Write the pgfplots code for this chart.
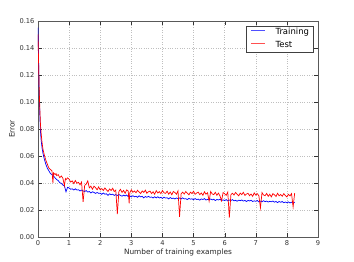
\documentclass[border=0pt]{standalone}
\usepackage{fontspec}
\setmainfont{DejaVu Sans}
\usepackage{pgfplots}
\pgfplotsset{compat=1.18}
\definecolor{lgblue}{RGB}{80,80,255}
\definecolor{lgred}{RGB}{255,80,80}
\begin{document}
\begin{tikzpicture}
\useasboundingbox (-38bp,-25bp) rectangle (316bp,237bp);
\begin{axis}[
  scale only axis, width=280bp, height=216bp,
  xmin=0, xmax=9, ymin=0, ymax=0.16,
  xtick={0,1,...,9}, ytick={0,0.02,...,0.16},
  /pgf/number format/assume math mode=true,
  yticklabel style={/pgf/number format/fixed,/pgf/number format/fixed zerofill,/pgf/number format/precision=2, font=\fontsize{6.7}{8}\selectfont, text=black!80},
  xticklabel style={font=\fontsize{6.7}{8}\selectfont, text=black!80},
  scaled y ticks=false, scaled x ticks=false,
  tick align=inside, major tick length=4bp, tick style={black!80},
  axis line style={black!65, line width=0.8bp},
  grid=major, grid style={black!25, dash pattern=on 0.8bp off 1.6bp, line width=0.5bp},
  xlabel={Number of training examples}, ylabel={Error},
  label style={font=\fontsize{7.4}{9}\selectfont, text=black!85},
  xlabel style={yshift=4bp}, ylabel style={yshift=-2bp},
  legend style={at={(1,1)}, anchor=north east, xshift=-4.7bp, yshift=-4.7bp,
    font=\fontsize{8.5}{10}\selectfont, draw=black!75, line width=0.6bp,
    inner xsep=4bp, inner ysep=2.5bp, row sep=4.5bp, column sep=0bp,
    nodes={inner xsep=0bp, inner ysep=0bp, text height=6.5bp, text depth=2bp}},
  legend cell align=left,
]
\addplot[draw=blue, line width=0.7bp,
  legend image code/.code={\draw[draw=lgblue, line width=0.8bp] (0bp,2.6bp) -- (14bp,2.6bp);}] coordinates {
(0,0.155) (0.02,0.130) (0.04,0.105) (0.06,0.090) (0.08,0.078) (0.1,0.072)
(0.13,0.066) (0.16,0.062) (0.2,0.058) (0.25,0.054) (0.3,0.051) (0.35,0.049)
(0.4,0.047) (0.45,0.0462) (0.5,0.0450) (0.55,0.0438) (0.6,0.0425) (0.65,0.0418)
(0.7,0.0402) (0.75,0.0398) (0.8,0.0385) (0.85,0.0378) (0.9,0.0335) (0.95,0.0368)
(1.00,0.0363) (1.05,0.0354) (1.10,0.0357) (1.15,0.0348) (1.20,0.0357) (1.25,0.0348)
(1.30,0.0350) (1.35,0.0341) (1.40,0.0348) (1.45,0.0341) (1.50,0.0337) (1.55,0.0344)
(1.60,0.0333) (1.65,0.0337) (1.70,0.0326) (1.75,0.0335) (1.80,0.0330) (1.85,0.0323)
(1.90,0.0330) (1.95,0.0323) (2.00,0.0325) (2.05,0.0316) (2.10,0.0326) (2.15,0.0317)
(2.20,0.0320) (2.25,0.0308) (2.30,0.0320) (2.35,0.0313) (2.40,0.0317) (2.45,0.0308)
(2.50,0.0314) (2.55,0.0307) (2.60,0.0315) (2.65,0.0308) (2.70,0.0302) (2.75,0.0310)
(2.80,0.0304) (2.85,0.0311) (2.90,0.0300) (2.95,0.0305) (3.00,0.0297) (3.05,0.0306)
(3.10,0.0298) (3.15,0.0302) (3.20,0.0294) (3.25,0.0305) (3.30,0.0297) (3.35,0.0302)
(3.40,0.0290) (3.45,0.0300) (3.50,0.0294) (3.55,0.0301) (3.60,0.0294) (3.65,0.0296)
(3.70,0.0289) (3.75,0.0298) (3.80,0.0290) (3.85,0.0298) (3.90,0.0289) (3.95,0.0294)
(4.00,0.0286) (4.05,0.0295) (4.10,0.0288) (4.15,0.0291) (4.20,0.0282) (4.25,0.0292)
(4.30,0.0285) (4.35,0.0288) (4.40,0.0282) (4.45,0.0289) (4.50,0.0284) (4.55,0.0289)
(4.60,0.0282) (4.65,0.0290) (4.70,0.0282) (4.75,0.0284) (4.80,0.0277) (4.85,0.0286)
(4.90,0.0280) (4.95,0.0283) (5.00,0.0276) (5.05,0.0285) (5.10,0.0277) (5.15,0.0281)
(5.20,0.0273) (5.25,0.0282) (5.30,0.0278) (5.35,0.0284) (5.40,0.0274) (5.45,0.0279)
(5.50,0.0275) (5.55,0.0282) (5.60,0.0275) (5.65,0.0280) (5.70,0.0270) (5.75,0.0278)
(5.80,0.0274) (5.85,0.0280) (5.90,0.0270) (5.95,0.0275) (6.00,0.0270) (6.05,0.0277)
(6.10,0.0267) (6.15,0.0274) (6.20,0.0270) (6.25,0.0277) (6.30,0.0268) (6.35,0.0272)
(6.40,0.0265) (6.45,0.0273) (6.50,0.0269) (6.55,0.0274) (6.60,0.0266) (6.65,0.0271)
(6.70,0.0263) (6.75,0.0271) (6.80,0.0267) (6.85,0.0272) (6.90,0.0263) (6.95,0.0268)
(7.00,0.0264) (7.05,0.0270) (7.10,0.0260) (7.15,0.0266) (7.20,0.0261) (7.25,0.0269)
(7.30,0.0262) (7.35,0.0266) (7.40,0.0259) (7.45,0.0264) (7.50,0.0261) (7.55,0.0266)
(7.60,0.0258) (7.65,0.0263) (7.70,0.0255) (7.75,0.0263) (7.80,0.0257) (7.85,0.0263)
(7.90,0.0254) (7.95,0.0259) (8.00,0.0254) (8.05,0.0260) (8.10,0.0252) (8.15,0.0258)
(8.20,0.0250) (8.25,0.0257)
};
\addlegendentry{\hspace{10bp}Training}
\addplot[draw=red, line width=0.7bp,
  legend image code/.code={\draw[draw=lgred, line width=0.8bp] (0bp,2.6bp) -- (14bp,2.6bp);}] coordinates {
(0,0.150) (0.02,0.128) (0.04,0.108) (0.06,0.094) (0.08,0.083) (0.1,0.077)
(0.13,0.070) (0.16,0.065) (0.2,0.061) (0.25,0.057) (0.3,0.054) (0.35,0.051)
(0.4,0.0500) (0.45,0.0490) (0.48,0.0400) (0.50,0.0475) (0.55,0.0462) (0.58,0.0470)
(0.60,0.0455) (0.65,0.0462) (0.70,0.0440) (0.75,0.0452) (0.80,0.0435) (0.85,0.0380)
(0.88,0.0432) (0.90,0.0425) (0.95,0.0438)
(1.00,0.0428) (1.05,0.0407) (1.10,0.0416) (1.15,0.0396) (1.20,0.0418) (1.25,0.0398)
(1.30,0.0405) (1.35,0.0387) (1.40,0.0407) (1.45,0.0260) (1.50,0.0382) (1.55,0.0392)
(1.60,0.0415) (1.65,0.0364) (1.70,0.0377) (1.75,0.0354) (1.80,0.0376) (1.85,0.0365)
(1.90,0.0350) (1.95,0.0371) (2.00,0.0349) (2.05,0.0359) (2.10,0.0345) (2.15,0.0363)
(2.20,0.0349) (2.25,0.0337) (2.30,0.0356) (2.35,0.0344) (2.40,0.0361) (2.45,0.0337)
(2.50,0.0347) (2.55,0.0170) (2.60,0.0337) (2.65,0.0353) (2.70,0.0330) (2.75,0.0345)
(2.80,0.0324) (2.85,0.0349) (2.90,0.0340) (2.93,0.0250) (2.95,0.0327) (3.00,0.0350)
(3.05,0.0331) (3.10,0.0341) (3.15,0.0328) (3.20,0.0346) (3.25,0.0333) (3.30,0.0322)
(3.35,0.0341) (3.40,0.0330) (3.45,0.0347) (3.50,0.0324) (3.55,0.0335) (3.60,0.0340)
(3.65,0.0322) (3.70,0.0335) (3.75,0.0317) (3.80,0.0343) (3.85,0.0326) (3.90,0.0336)
(3.95,0.0321) (4.00,0.0345) (4.05,0.0327) (4.10,0.0323) (4.15,0.0339) (4.20,0.0317)
(4.25,0.0333) (4.30,0.0313) (4.35,0.0337) (4.40,0.0329) (4.45,0.0317) (4.50,0.0341)
(4.55,0.0150) (4.60,0.0321) (4.65,0.0332) (4.70,0.0318) (4.75,0.0337) (4.80,0.0324)
(4.85,0.0312) (4.90,0.0332) (4.95,0.0321) (5.00,0.0339) (5.05,0.0316) (5.10,0.0326)
(5.15,0.0332) (5.20,0.0314) (5.25,0.0326) (5.30,0.0309) (5.35,0.0335) (5.40,0.0317)
(5.45,0.0328) (5.50,0.0265) (5.55,0.0337) (5.60,0.0319) (5.65,0.0314) (5.70,0.0331)
(5.75,0.0309) (5.80,0.0325) (5.85,0.0304) (5.90,0.0268) (5.95,0.0329) (6.00,0.0321)
(6.05,0.0309) (6.10,0.0333) (6.15,0.0143) (6.20,0.0313) (6.25,0.0324) (6.30,0.0311)
(6.35,0.0330) (6.40,0.0316) (6.45,0.0305) (6.50,0.0325) (6.55,0.0314) (6.60,0.0331)
(6.65,0.0308) (6.70,0.0318) (6.75,0.0324) (6.80,0.0306) (6.85,0.0318) (6.90,0.0301)
(6.95,0.0327) (7.00,0.0310) (7.05,0.0321) (7.10,0.0305) (7.15,0.0215) (7.20,0.0329)
(7.25,0.0311) (7.30,0.0306) (7.35,0.0323) (7.40,0.0301) (7.45,0.0317) (7.50,0.0297)
(7.55,0.0321) (7.60,0.0313) (7.65,0.0300) (7.70,0.0324) (7.75,0.0305) (7.80,0.0315)
(7.85,0.0302) (7.90,0.0321) (7.95,0.0308) (8.00,0.0297) (8.05,0.0316) (8.10,0.0304)
(8.15,0.0321) (8.20,0.0222) (8.25,0.0325)
};
\addlegendentry{\hspace{10bp}Test}
\node[anchor=north east, font=\fontsize{6.7}{8}\selectfont, text=black!80, inner sep=0pt]
  at ([yshift=-8bp,xshift=-2bp]rel axis cs:1,0) {1e9};
\end{axis}
\end{tikzpicture}
\end{document}
